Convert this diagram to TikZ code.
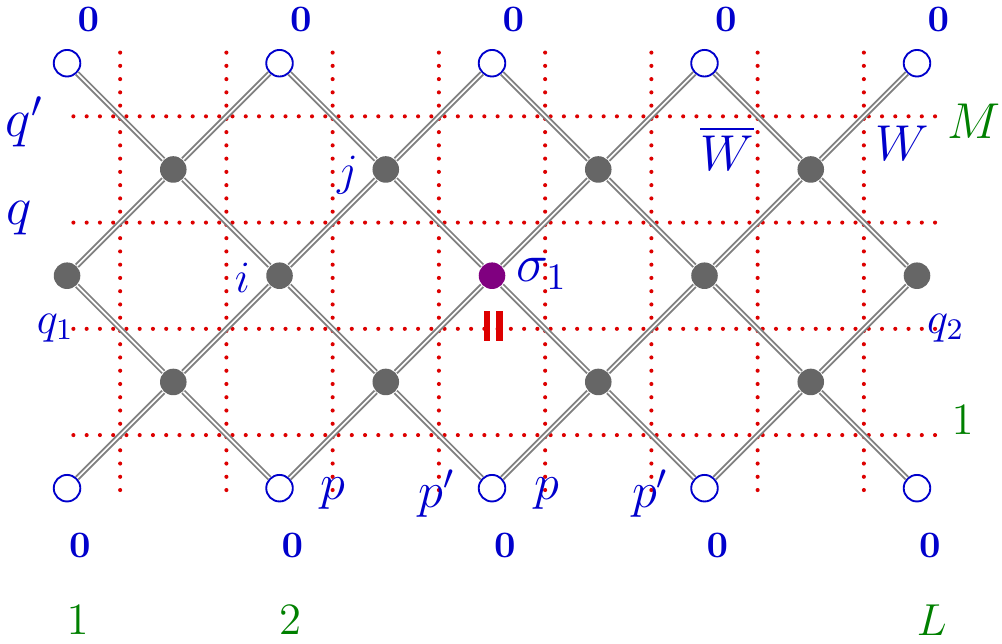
\RequirePackage{fix-cm}
\documentclass[tikz,border=0pt]{standalone}
\usepackage{amsmath,amssymb}
\usepackage{tikz}
\usetikzlibrary{positioning,calc}
\definecolor{lblue}{HTML}{0000CC}
\definecolor{lgreen}{HTML}{008000}
\definecolor{lred}{HTML}{DD0000}
\definecolor{lgray}{HTML}{666666}
\definecolor{lpurple}{HTML}{800080}
\tikzset{
  vert/.style ={circle, fill=lgray, minimum size=2.5mm, inner sep=0pt},
  bdry/.style ={circle, draw=lblue, fill=white, minimum size=2.5mm, inner sep=0pt, line width=0.5pt},
  spin/.style ={circle, fill=lpurple, minimum size=2.5mm, inner sep=0pt},
  wline/.style={draw=gray, double=white, double distance=0.45pt, line width=0.5pt},
  cut/.style  ={lred, line width=1.1pt, line cap=round, dash pattern=on 0pt off 3.55pt},
  blab/.style ={text=lblue, font=\large, inner sep=0pt},
  glab/.style ={text=lgreen, font=\large, inner sep=0pt},
  zlab/.style ={text=lblue, inner sep=0pt},
  mid/.style  ={font=\fontsize{13.5}{16}\selectfont},
}
\begin{document}
\begin{tikzpicture}
    \useasboundingbox (-0.631,-1.46) rectangle (8.80,4.595);
    % --- dotted cuts ---
    \foreach \y in {0.5,1.5,2.5,3.5}\draw[cut] (0.06,\y) -- (8.2,\y);
    \foreach \x in {0.5,1.5,...,7.5}\draw[cut] (\x,4.1) -- (\x,-0.02);
    % --- vertices ---
    \foreach \k in {0,...,4}{
      \node[bdry] (t\k) at ({2*\k},4){};
      \node[bdry] (b\k) at ({2*\k},0){};
    }
    \foreach \k in {0,...,3}{
      \node[vert] (u\k) at ({2*\k+1},3){};
      \node[vert] (l\k) at ({2*\k+1},1){};
    }
    \foreach \k in {0,1,3,4}\node[vert] (m\k) at ({2*\k},2){};
    \node[spin] (m2) at (4,2){};
    % --- world lines ---
    \foreach \k [count=\n] in {0,...,3}{
      \draw[wline] (t\k) -- (u\k); \draw[wline] (t\n) -- (u\k);
      \draw[wline] (u\k) -- (m\k); \draw[wline] (u\k) -- (m\n);
      \draw[wline] (l\k) -- (m\k); \draw[wline] (l\k) -- (m\n);
      \draw[wline] (l\k) -- (b\k); \draw[wline] (l\k) -- (b\n);
    }
    % --- boundary values ---
    \foreach \k in {0,...,4}{
      \node[zlab] (zt\k) at ({2*\k+0.2},4.41){$\mathbf{0}$};
      \node[zlab] (zb\k) at ({2*\k+0.12},-0.54){$\mathbf{0}$};
    }
    \node[glab] (c1) at (0.1,-1.24){$1$};
    \node[glab] (c2) at (2.1,-1.24){$2$};
    \node[glab] (cL) at (8.14,-1.24){$L$};
    \node[glab,mid] (rM) at (8.54,3.45){$M$};
    \node[glab] (r1) at (8.43,0.64){$1$};
    % --- labels ---
    \node[blab,font=\Large] (qp) at (-0.40,3.45){$q'$};
    \node[blab,font=\Large] (qq) at (-0.45,2.54){$q$};
    \node[blab] (q1) at (-0.11,1.51){$q_1$};
    \node[blab] (q2) at (8.27,1.51){$q_2$};
    \node[blab] (li) at (1.65,1.98){$i$};
    \node[blab] (lj) at (2.64,2.95){$j$};
    \node[blab,font=\Large] (sg) at (4.47,2.02){$\sigma_1$};
    \node[blab,mid] (p1) at (2.5,-0.05){$p$};
    \node[blab,mid] (p2) at (3.48,-0.05){$p'$};
    \node[blab,mid] (p3) at (4.52,-0.05){$p$};
    \node[blab,mid] (p4) at (5.49,-0.05){$p'$};
    \node[blab,mid] (wb) at (6.21,3.2){$\overline{W}$};
    \node[blab,mid] (ww) at (7.86,3.25){$W$};
    % --- red bars ---
    \fill[lred] (3.92,1.39) rectangle (3.985,1.665);
    \fill[lred] (4.04,1.39) rectangle (4.105,1.665);
  \end{tikzpicture}
\end{document}
